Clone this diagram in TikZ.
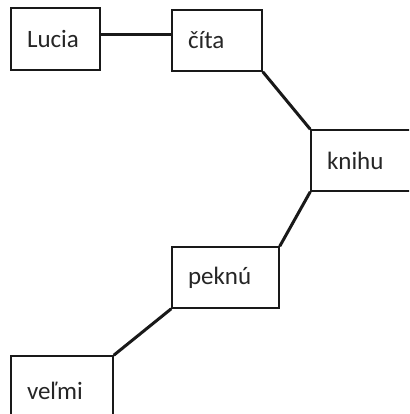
\documentclass[tikz,border=0pt]{standalone}
\usepackage{fontspec}
\setmainfont{Carlito}
\begin{document}
\begin{tikzpicture}[x=1pt,y=-1pt,
  wordbox/.style={draw=black!90, line width=1.5pt, inner xsep=16pt, inner ysep=0pt,
    align=left, font=\fontsize{25}{29}\selectfont, text=black!85},
  link/.style={draw=black!90, line width=3pt}]
\clip (0,0) rectangle (409,414);
\fill[white] (0,0) rectangle (409,414);
% word boxes
\node[wordbox, minimum width=89pt, minimum height=62pt, text width=57pt] (lucia) at (55.5,39) {Lucia};
\node[wordbox, minimum width=90pt, minimum height=61pt, text width=58pt] (cita) at (217,40.5) {číta};
\node[wordbox, minimum width=110pt, minimum height=61pt, text width=78pt] (knihu) at (366,160.5) {knihu};
\node[wordbox, minimum width=107pt, minimum height=61pt, text width=75pt] (peknu) at (225.5,277.5) {peknú};
\node[wordbox, minimum width=102pt, minimum height=70pt, text width=70pt] (velmi) at (62,391) {veľmi};
% connectors
\draw[link] ([yshift=4pt]lucia.east) -- ([yshift=4pt]lucia.east -| cita.west);
\draw[link] (cita.south east) -- (knihu.north west);
\draw[link] (knihu.south west) -- (peknu.north east);
\draw[link] (peknu.south west) -- (velmi.north east);
\end{tikzpicture}
\end{document}
